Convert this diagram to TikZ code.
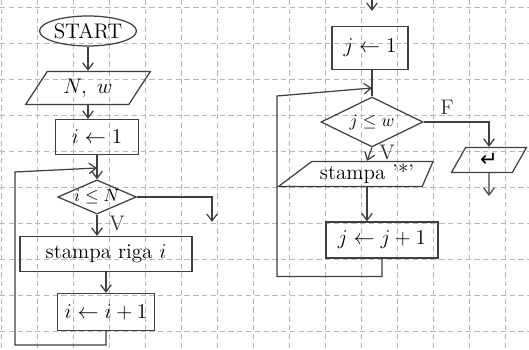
\documentclass[tikz,border=0pt]{standalone}
\usepackage{fontspec}
\newfontfamily\symfont{DejaVu Sans}
\usetikzlibrary{shapes.geometric,arrows.meta}
\begin{document}
\begin{tikzpicture}[x=0.02cm,y=-0.02cm,
  ink/.style={draw=black!75, line width=0.7pt},
  arr/.style={ink, -{Straight Barb[length=4pt,width=6pt]}},
  procbox/.style={ink, rectangle, inner sep=0pt, font=\large},
  iobox/.style={ink, trapezium, trapezium stretches=true, inner sep=0pt, font=\large},
  decbox/.style={ink, diamond, inner sep=0pt},
  lbl/.style={font=\large, text=black!80},
  gridline/.style={draw=black!28, dash pattern=on 3pt off 2pt, line width=0.4pt}]
\useasboundingbox (0,0) rectangle (529,350);
\fill[white] (0,0) rectangle (529,350);
\foreach \k in {0,...,14} \draw[gridline] (1.5+36*\k,0) -- (1.5+36*\k,350);
\foreach \k in {0,...,9} \draw[gridline] (0,7+36*\k) -- (529,7+36*\k);

% left flowchart
\node[ink, ellipse, minimum width=1.8cm, minimum height=0.6cm, inner sep=0pt, font=\large] (start) at (88,31) {START};
\node[iobox, trapezium left angle=55, trapezium right angle=125, minimum width=2.5cm, minimum height=0.66cm] (in) at (88,88) {$N,\ w$};
\node[procbox, minimum width=1.66cm, minimum height=0.7cm] (i1) at (97,137) {$i \leftarrow 1$};
\node[decbox, aspect=2.3, minimum width=1.56cm, minimum height=0.68cm] (c1) at (97,197) {$i \le N$};
\node[procbox, minimum width=3.44cm, minimum height=0.7cm] (print) at (106,254) {stampa riga $i$};
\node[procbox, minimum width=1.94cm, minimum height=0.74cm] (inc) at (106,312) {$i \leftarrow i+1$};
\node[lbl] (v1) at (117,224) {V};
\coordinate (j1) at (97,168);
\coordinate (e1) at (212,222);

\draw[arr] (start.south) -- (start.south |- in.north);
\draw[arr] (in.south) -- (in.south |- i1.north);
\draw[arr] (i1.south) -- (c1.north);
\draw[arr] (c1.south) -- (c1.south |- print.north);
\draw[arr] (c1.east) -| (e1);
\draw[arr] (inc.south |- print.south) -- (inc.north);
\draw[arr] (inc.south) -- ++(0,14) -| (15,172) -- (j1);

% right flowchart
\coordinate (t0) at (372,0);
\coordinate (t1) at (372,11);
\node[procbox, minimum width=1.52cm, minimum height=0.86cm] (jset) at (370,48) {$j \leftarrow 1$};
\node[decbox, aspect=2, minimum width=2.04cm, minimum height=1.0cm] (c2) at (372,122) {$j \le w$};
\node[iobox, trapezium left angle=35, trapezium right angle=115, minimum width=3.1cm, minimum height=0.5cm] (pst) at (367,174) {stampa '*'};
\node[procbox, minimum width=2.24cm, minimum height=0.72cm] (incj) at (382,240) {$j \leftarrow j+1$};
\node[iobox, trapezium left angle=68, trapezium right angle=112, minimum width=1.5cm, minimum height=0.5cm] (nl) at (489,160) {\symfont ↵};
\node[lbl] (fl) at (447,107) {F};
\node[lbl] (v2) at (387,153) {V};
\coordinate (j2) at (372,88);
\coordinate (e2) at (489,196);

\draw[arr] (t0) -- (t1);
\draw[ink] (jset.south -| c2.north) -- (c2.north);
\draw[arr] (c2.south) -- (pst.north);
\draw[arr] (c2.east) -| (nl.north);
\draw[arr] (nl.south) -- (e2);
\draw[arr] (pst.south) -- (pst.south |- incj.north);
\draw[arr] (incj.south) -- ++(0,18) -| (277,96) -- (j2);
\end{tikzpicture}
\end{document}
